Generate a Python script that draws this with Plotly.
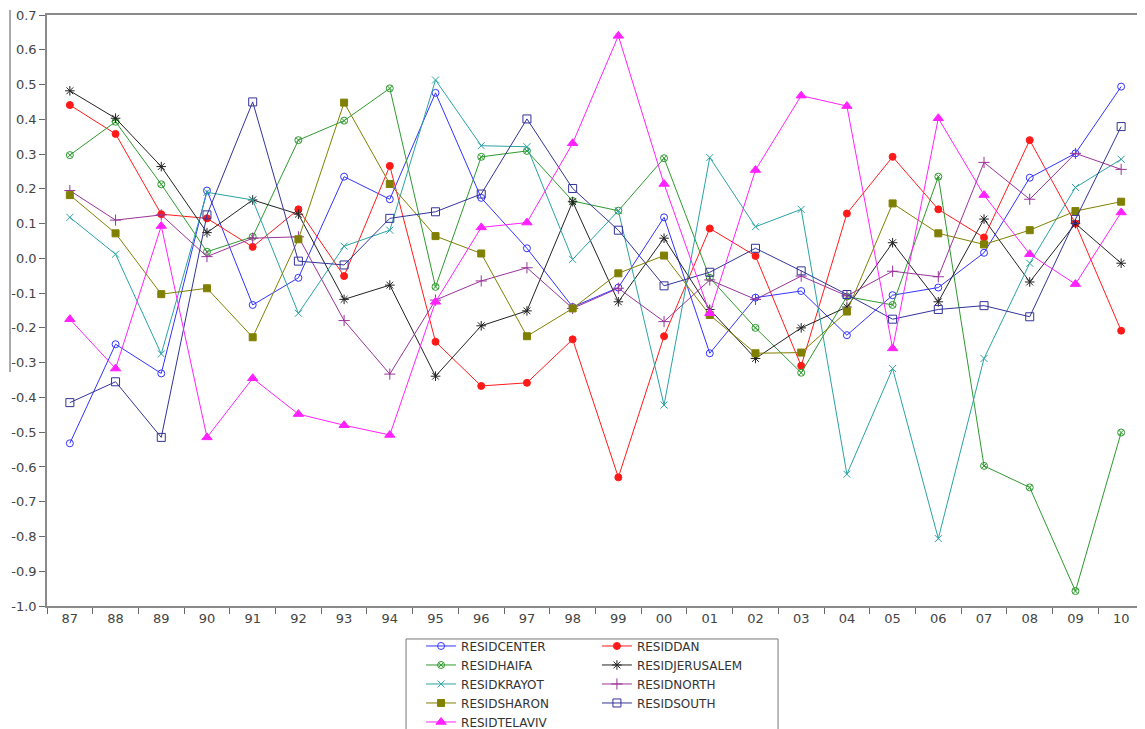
import plotly.graph_objects as go

years = ["87", "88", "89", "90", "91", "92", "93", "94", "95", "96", "97", "98",
         "99", "00", "01", "02", "03", "04", "05", "06", "07", "08", "09", "10"]

center = [-0.532, -0.247, -0.331, 0.195, -0.134, -0.056, 0.235, 0.170, 0.476, 0.174, 0.029, -0.140,
          -0.084, 0.118, -0.273, -0.113, -0.094, -0.221, -0.106, -0.084, 0.016, 0.232, 0.302, 0.494]
dan = [0.441, 0.358, 0.127, 0.115, 0.033, 0.141, -0.051, 0.266, -0.240, -0.367, -0.358, -0.233,
       -0.630, -0.224, 0.086, 0.007, -0.309, 0.129, 0.292, 0.141, 0.060, 0.340, 0.100, -0.208]
haifa = [0.297, 0.393, 0.213, 0.019, 0.062, 0.340, 0.396, 0.489, -0.082, 0.292, 0.309, 0.165,
         0.137, 0.288, -0.056, -0.200, -0.329, -0.110, -0.134, 0.235, -0.597, -0.659, -0.957, -0.501]
jerusalem = [0.482, 0.403, 0.264, 0.074, 0.168, 0.127, -0.118, -0.077, -0.339, -0.194, -0.151, 0.163,
             -0.125, 0.058, -0.147, -0.288, -0.200, -0.140, 0.045, -0.125, 0.113, -0.068, 0.100, -0.014]
krayot = [0.118, 0.012, -0.275, 0.190, 0.168, -0.158, 0.035, 0.081, 0.513, 0.324, 0.321, -0.003,
          0.137, -0.422, 0.290, 0.091, 0.141, -0.621, -0.317, -0.806, -0.288, -0.014, 0.204, 0.285]
north = [0.195, 0.110, 0.125, 0.005, 0.058, 0.062, -0.179, -0.333, -0.120, -0.065, -0.027, -0.144,
         -0.086, -0.182, -0.062, -0.118, -0.051, -0.108, -0.037, -0.053, 0.276, 0.170, 0.302, 0.256]
sharon = [0.182, 0.072, -0.103, -0.086, -0.227, 0.055, 0.448, 0.214, 0.064, 0.014, -0.224, -0.144,
          -0.043, 0.008, -0.163, -0.273, -0.271, -0.153, 0.158, 0.072, 0.040, 0.081, 0.136, 0.163]
south = [-0.415, -0.355, -0.515, 0.125, 0.450, -0.008, -0.019, 0.115, 0.134, 0.185, 0.401, 0.201,
         0.081, -0.079, -0.040, 0.029, -0.036, -0.104, -0.175, -0.147, -0.136, -0.168, 0.112, 0.379]
telaviv = [-0.175, -0.317, 0.093, -0.515, -0.345, -0.448, -0.480, -0.508, -0.125, 0.089, 0.103, 0.331,
           0.640, 0.214, -0.158, 0.254, 0.468, 0.438, -0.259, 0.403, 0.182, 0.012, -0.074, 0.132]

y_tick_vals = [0.7, 0.6, 0.5, 0.4, 0.3, 0.2, 0.1, 0.0, -0.1, -0.2, -0.3, -0.4, -0.5, -0.6, -0.7, -0.8, -0.9, -1.0]
y_tick_text = ["0.7", "0.6", "0.5", "0.4", "0.3", "0.2", "0.1", "0.0", "-0.1", "-0.2", "-0.3", "-0.4",
               "-0.5", "-0.6", "-0.7", "-0.8", "-0.9", "-1.0"]

series = [
    ("RESIDCENTER", center, "#3333ff", "circle-open", 7, "legend"),
    ("RESIDDAN", dan, "#ff1a1a", "circle", 7, "legend2"),
    ("RESIDHAIFA", haifa, "#2e9a2e", "circle-x-open", 7, "legend"),
    ("RESIDJERUSALEM", jerusalem, "#222222", "asterisk-open", 8, "legend2"),
    ("RESIDKRAYOT", krayot, "#2aa3a3", "x-thin-open", 7, "legend"),
    ("RESIDNORTH", north, "#993399", "cross-thin-open", 8, "legend2"),
    ("RESIDSHARON", sharon, "#808000", "square", 7, "legend"),
    ("RESIDSOUTH", south, "#333399", "square-open", 8, "legend2"),
    ("RESIDTELAVIV", telaviv, "#ff22ff", "triangle-up", 9, "legend"),
]

fig = go.Figure()
for name, vals, color, sym, size, leg in series:
    fig.add_trace(go.Scatter(
        x=years, y=vals, name=name, mode="lines+markers",
        line=dict(color=color, width=1),
        marker=dict(symbol=sym, size=size, color=color, line=dict(color=color, width=1)),
        legend=leg,
    ))

font_family = "DejaVu Sans, Arial, sans-serif"
legend_font = dict(family=font_family, size=12, color="#333333")

fig.update_layout(
    width=1137, height=721,
    margin=dict(l=39, r=1, t=7, b=123, autoexpand=False),
    paper_bgcolor="white", plot_bgcolor="white",
    font=dict(family=font_family, size=13, color="#444444"),
    showlegend=True,
    legend=dict(x=0.341, y=-0.0431, xanchor="left", yanchor="top", orientation="v",
                bgcolor="rgba(0,0,0,0)", borderwidth=0, font=legend_font, tracegroupgap=0),
    legend2=dict(x=0.5013, y=-0.0431, xanchor="left", yanchor="top", orientation="v",
                 bgcolor="rgba(0,0,0,0)", borderwidth=0, font=legend_font, tracegroupgap=0),
    xaxis=dict(type="category", range=[-0.5, 23.5], showgrid=False, zeroline=False,
               showline=True, linecolor="#8a8a8a", linewidth=1.5, mirror=True,
               ticks="outside", tickson="boundaries", ticklen=6, tickcolor="#6a6a6a",
               ticklabeloverflow="allow",
               tickfont=dict(family=font_family, size=13, color="#444444")),
    yaxis=dict(range=[-1.0, 0.7], showgrid=False, zeroline=False,
               showline=True, linecolor="#8a8a8a", linewidth=1.5, mirror=True,
               ticks="outside", ticklen=6, tickcolor="#6a6a6a",
               ticklabeloverflow="allow",
               tickvals=y_tick_vals, ticktext=y_tick_text,
               tickfont=dict(family=font_family, size=13, color="#444444")),
    shapes=[
        dict(type="rect", xref="paper", yref="paper", x0=0.3273, x1=0.6664, y0=-0.0558, y1=-0.25,
             line=dict(color="#777777", width=1), fillcolor="rgba(0,0,0,0)", layer="above"),
        dict(type="line", xref="paper", yref="paper", x0=-0.0337, x1=-0.0337, y0=1.0085, y1=0.396,
             line=dict(color="#555555", width=1)),
    ],
)

fig.write_html("out.html")
